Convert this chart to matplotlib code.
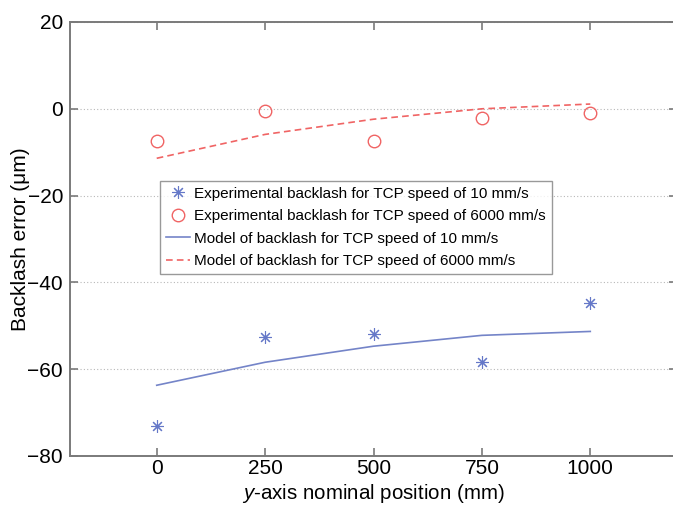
import matplotlib
matplotlib.use("Agg")
import matplotlib.pyplot as plt
from matplotlib.ticker import FixedLocator

plt.rcParams['font.family'] = ['Liberation Sans', 'DejaVu Sans']
plt.rcParams['mathtext.fontset'] = 'custom'
plt.rcParams['mathtext.it'] = 'Liberation Sans:italic'

# y-axis nominal positions (mm)
positions = [0, 250, 500, 750, 1000]

# measured backlash (um)
exp_10 = [-73.2, -52.6, -51.8, -58.3, -44.7]
exp_6000 = [-7.4, -0.5, -7.4, -2.2, -0.9]

# model of backlash (um)
model_10 = [-63.7, -58.4, -54.7, -52.2, -51.3]
model_6000 = [-11.4, -5.9, -2.4, 0.0, 1.1]

x_ticks = [0, 250, 500, 750, 1000]
y_ticks = [-80, -60, -40, -20, 0, 20]

blue = '#6578c8'
blue_line = '#7484c8'
red = '#f06464'

fig = plt.figure(figsize=(6.73, 5.05), dpi=100)
ax = fig.add_axes([70 / 673, 49 / 505, 607 / 673, 434 / 505])

ax.plot(positions, exp_10, linestyle='none', marker=(8, 2, 0), markersize=9,
        markeredgewidth=0.8, color=blue, markeredgecolor=blue,
        label='Experimental backlash for TCP speed of 10 mm/s')
ax.plot(positions, exp_6000, linestyle='none', marker='o', markersize=9,
        markerfacecolor='none', markeredgecolor=red, markeredgewidth=1.0,
        label='Experimental backlash for TCP speed of 6000 mm/s')
ax.plot(positions, model_10, color=blue_line, linewidth=1.2,
        label='Model of backlash for TCP speed of 10 mm/s')
ax.plot(positions, model_6000, color=red, linewidth=1.2, linestyle=(0, (4, 2.5)),
        label='Model of backlash for TCP speed of 6000 mm/s')

ax.set_xlim(-200, 1200)
ax.set_ylim(-80, 20)
ax.xaxis.set_major_locator(FixedLocator(x_ticks))
ax.yaxis.set_major_locator(FixedLocator(y_ticks))
ax.set_xticklabels([str(t) for t in x_ticks])
ax.set_yticklabels([str(t).replace('-', '\u2212') for t in y_ticks])

ax.grid(axis='y', color='#b8b8b8', linestyle=(0, (1, 2)), linewidth=0.8)
ax.set_axisbelow(True)

for side in ['left', 'bottom', 'top', 'right']:
    ax.spines[side].set_color('#7a7a7a')
    ax.spines[side].set_linewidth(1.4)

ax.tick_params(direction='in', length=6, width=1.2, color='#7a7a7a',
               labelsize=15, labelcolor='black', top=True, right=True)
ax.tick_params(axis='x', pad=1.8)
ax.tick_params(axis='y', pad=5)

ax.set_xlabel(r'$\mathit{y}$' + '-axis nominal position (mm)', fontsize=14.8)
ax.xaxis.set_label_coords(0.5, -0.0597)
ax.set_ylabel('Backlash error (\u03bcm)', fontsize=15)
ax.yaxis.set_label_coords(-0.066, 0.5)

leg = fig.legend(loc='upper left', bbox_to_anchor=(160 / 673, 1 - 181 / 505),
                 fontsize=11, frameon=True, fancybox=False, edgecolor='#808080',
                 handlelength=1.6, handletextpad=0.25, borderpad=0.38,
                 labelspacing=0.55, borderaxespad=0)
leg.get_frame().set_linewidth(1.0)

fig.savefig('out.png', dpi=100)
